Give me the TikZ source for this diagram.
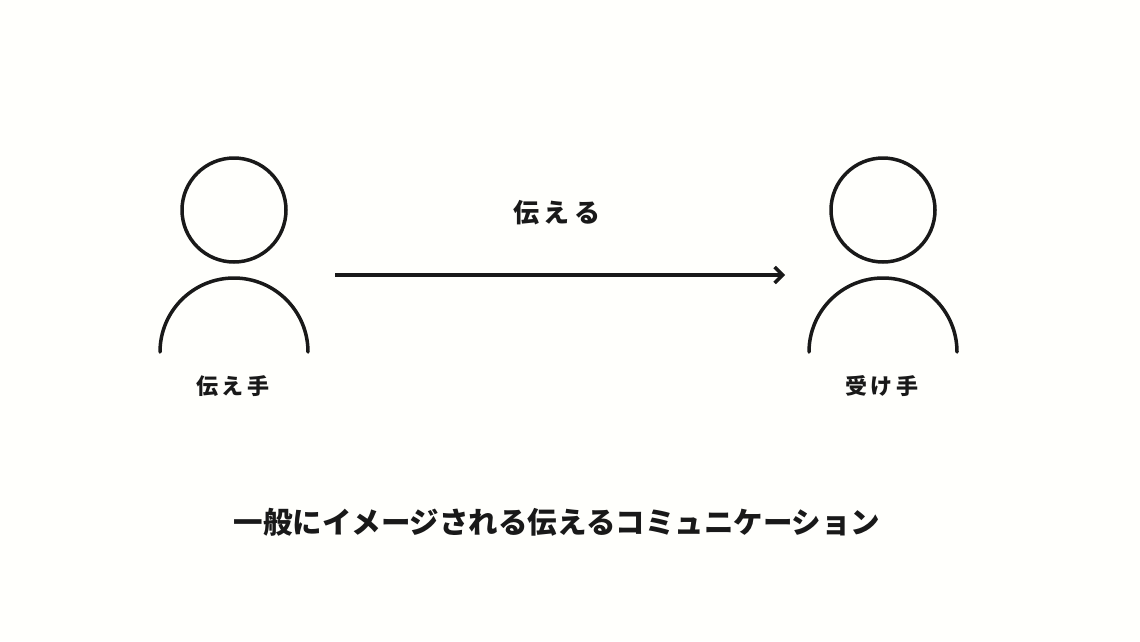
\documentclass[tikz,border=0pt]{standalone}
\usepackage{fontspec}
\newfontfamily\cjk{Noto Sans CJK JP}
\usetikzlibrary{arrows.meta}
\begin{document}
\begin{tikzpicture}[x=1pt,y=-1pt,
  stroke/.style={line width=3.5pt,color=black!90},
  lbl/.style={font=\cjk\bfseries\fontsize{22}{22}\selectfont,text=black!90}]
\fill[white!99!yellow] (0,0) rectangle (1140,641);
\useasboundingbox (0,0) rectangle (1140,641);
% left person
\node[stroke,draw,circle,minimum size=104pt,inner sep=0] (h1) at (234,210) {};
\draw[stroke,line cap=round] (160,352) arc[start angle=180,end angle=360,radius=74];
\coordinate (s1) at (335,275);
% right person
\node[stroke,draw,circle,minimum size=104pt,inner sep=0] (h2) at (883,210) {};
\draw[stroke,line cap=round] (809,352) arc[start angle=180,end angle=360,radius=74];
\coordinate (e1) at (785,275);
\draw[stroke,-{Straight Barb[length=8pt,width=16pt]}] (s1) -- (e1);
\node[lbl,font=\cjk\bfseries\fontsize{26}{26}\selectfont] (t1) at (557,213) {伝\,え\,る};
\node[lbl] (l1) at (233,386) {伝\,え\,手};
\node[lbl] (l2) at (882,386) {受\,け\,手};
\node[lbl,font=\cjk\bfseries\fontsize{29.5}{30}\selectfont] (tt) at (557,522) {一般にイメージされる伝えるコミュニケーション};
\end{tikzpicture}
\end{document}
